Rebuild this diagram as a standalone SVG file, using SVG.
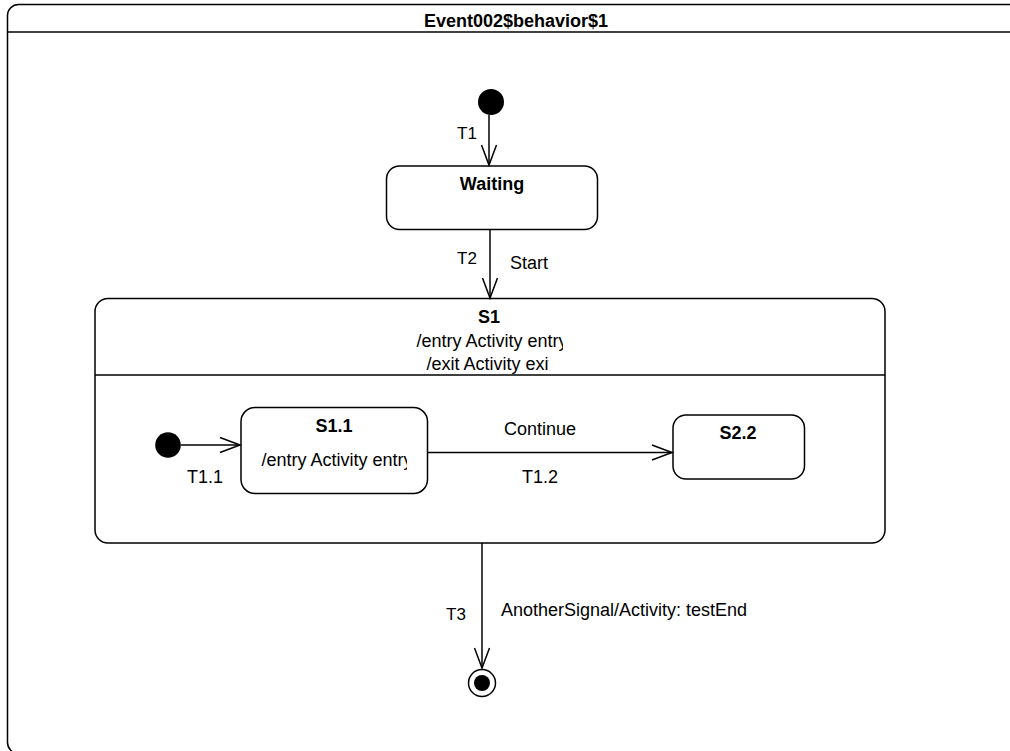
<svg xmlns="http://www.w3.org/2000/svg" width="1010" height="751" viewBox="0 0 1010 751">
<style>
.box{fill:#fff;stroke:#000;stroke-width:1.5}
.ln{fill:none;stroke:#000;stroke-width:1.5}
.t{font-family:"Liberation Sans",Arial,sans-serif;font-size:18px;fill:#000}
.tl{font-family:"Liberation Sans",Arial,sans-serif;font-size:17px;fill:#000}
.b{font-weight:bold}
.c{text-anchor:middle}
</style>
<defs>
<marker id="open" markerUnits="userSpaceOnUse" markerWidth="30" markerHeight="30" viewBox="-25 -15 30 30" refX="0" refY="0" orient="auto">
<path d="M-20,-7.5 L0,0 L-20,7.5" fill="none" stroke="#000" stroke-width="1.5"/>
</marker>
<clipPath id="clipS1entry"><rect x="300" y="330" width="263" height="25"/></clipPath>
<clipPath id="clipS1exit"><rect x="300" y="354" width="249" height="20"/></clipPath>
<clipPath id="clipS11entry"><rect x="245" y="448" width="162" height="26"/></clipPath>
</defs>
<rect width="1010" height="751" fill="#fff"/>
<g id="frame">
<rect class="box" x="7.5" y="4.5" width="1018" height="749" rx="11"/>
<line class="ln" x1="7.5" y1="32" x2="1025.5" y2="32"/>
<text class="t b c" x="516" y="27">Event002$behavior$1</text>
</g>
<g id="init1">
<circle cx="491" cy="102" r="13" fill="#000"/>
</g>
<g id="Waiting">
<rect class="box" x="386.5" y="166" width="211" height="63.5" rx="13"/>
<text class="t b c" x="492" y="190">Waiting</text>
</g>
<g id="S1">
<rect class="box" x="95" y="298.5" width="790" height="244.5" rx="13"/>
<line class="ln" x1="95" y1="375" x2="885" y2="375"/>
<text class="t b c" x="489" y="323">S1</text>
<text class="t c" x="492" y="347" clip-path="url(#clipS1entry)">/entry Activity entry</text>
<text class="t c" x="490" y="370" clip-path="url(#clipS1exit)">/exit Activity exit</text>
</g>
<g id="init2">
<circle cx="168" cy="445" r="12.8" fill="#000"/>
</g>
<g id="S1_1">
<rect class="box" x="241" y="407.5" width="186.5" height="86" rx="14"/>
<text class="t b c" x="334" y="432">S1.1</text>
<text class="t c" x="337" y="466" clip-path="url(#clipS11entry)">/entry Activity entry</text>
</g>
<g id="S2_2">
<rect class="box" x="673" y="415" width="131.5" height="64" rx="13"/>
<text class="t b c" x="738" y="439">S2.2</text>
</g>
<g id="final">
<circle cx="482" cy="683" r="13.5" fill="#fff" stroke="#000" stroke-width="1.5"/>
<circle cx="482" cy="683" r="8" fill="#000"/>
</g>
<g id="connectors">
<line class="ln" x1="489" y1="115" x2="489" y2="165" marker-end="url(#open)"/>
<text class="tl" x="457" y="139">T1</text>
<line class="ln" x1="490" y1="229.5" x2="490" y2="298" marker-end="url(#open)"/>
<text class="tl" x="457" y="264">T2</text>
<text class="t" x="510" y="269">Start</text>
<line class="ln" x1="181" y1="445" x2="240" y2="445" marker-end="url(#open)"/>
<text class="t" x="187" y="483">T1.1</text>
<line class="ln" x1="427.5" y1="452.5" x2="672" y2="452.5" marker-end="url(#open)"/>
<text class="t c" x="540" y="435">Continue</text>
<text class="t c" x="540" y="483">T1.2</text>
<line class="ln" x1="482" y1="543" x2="482" y2="668" marker-end="url(#open)"/>
<text class="tl" x="446" y="620">T3</text>
<text class="t" x="501" y="616">AnotherSignal/Activity: testEnd</text>
</g>
</svg>
